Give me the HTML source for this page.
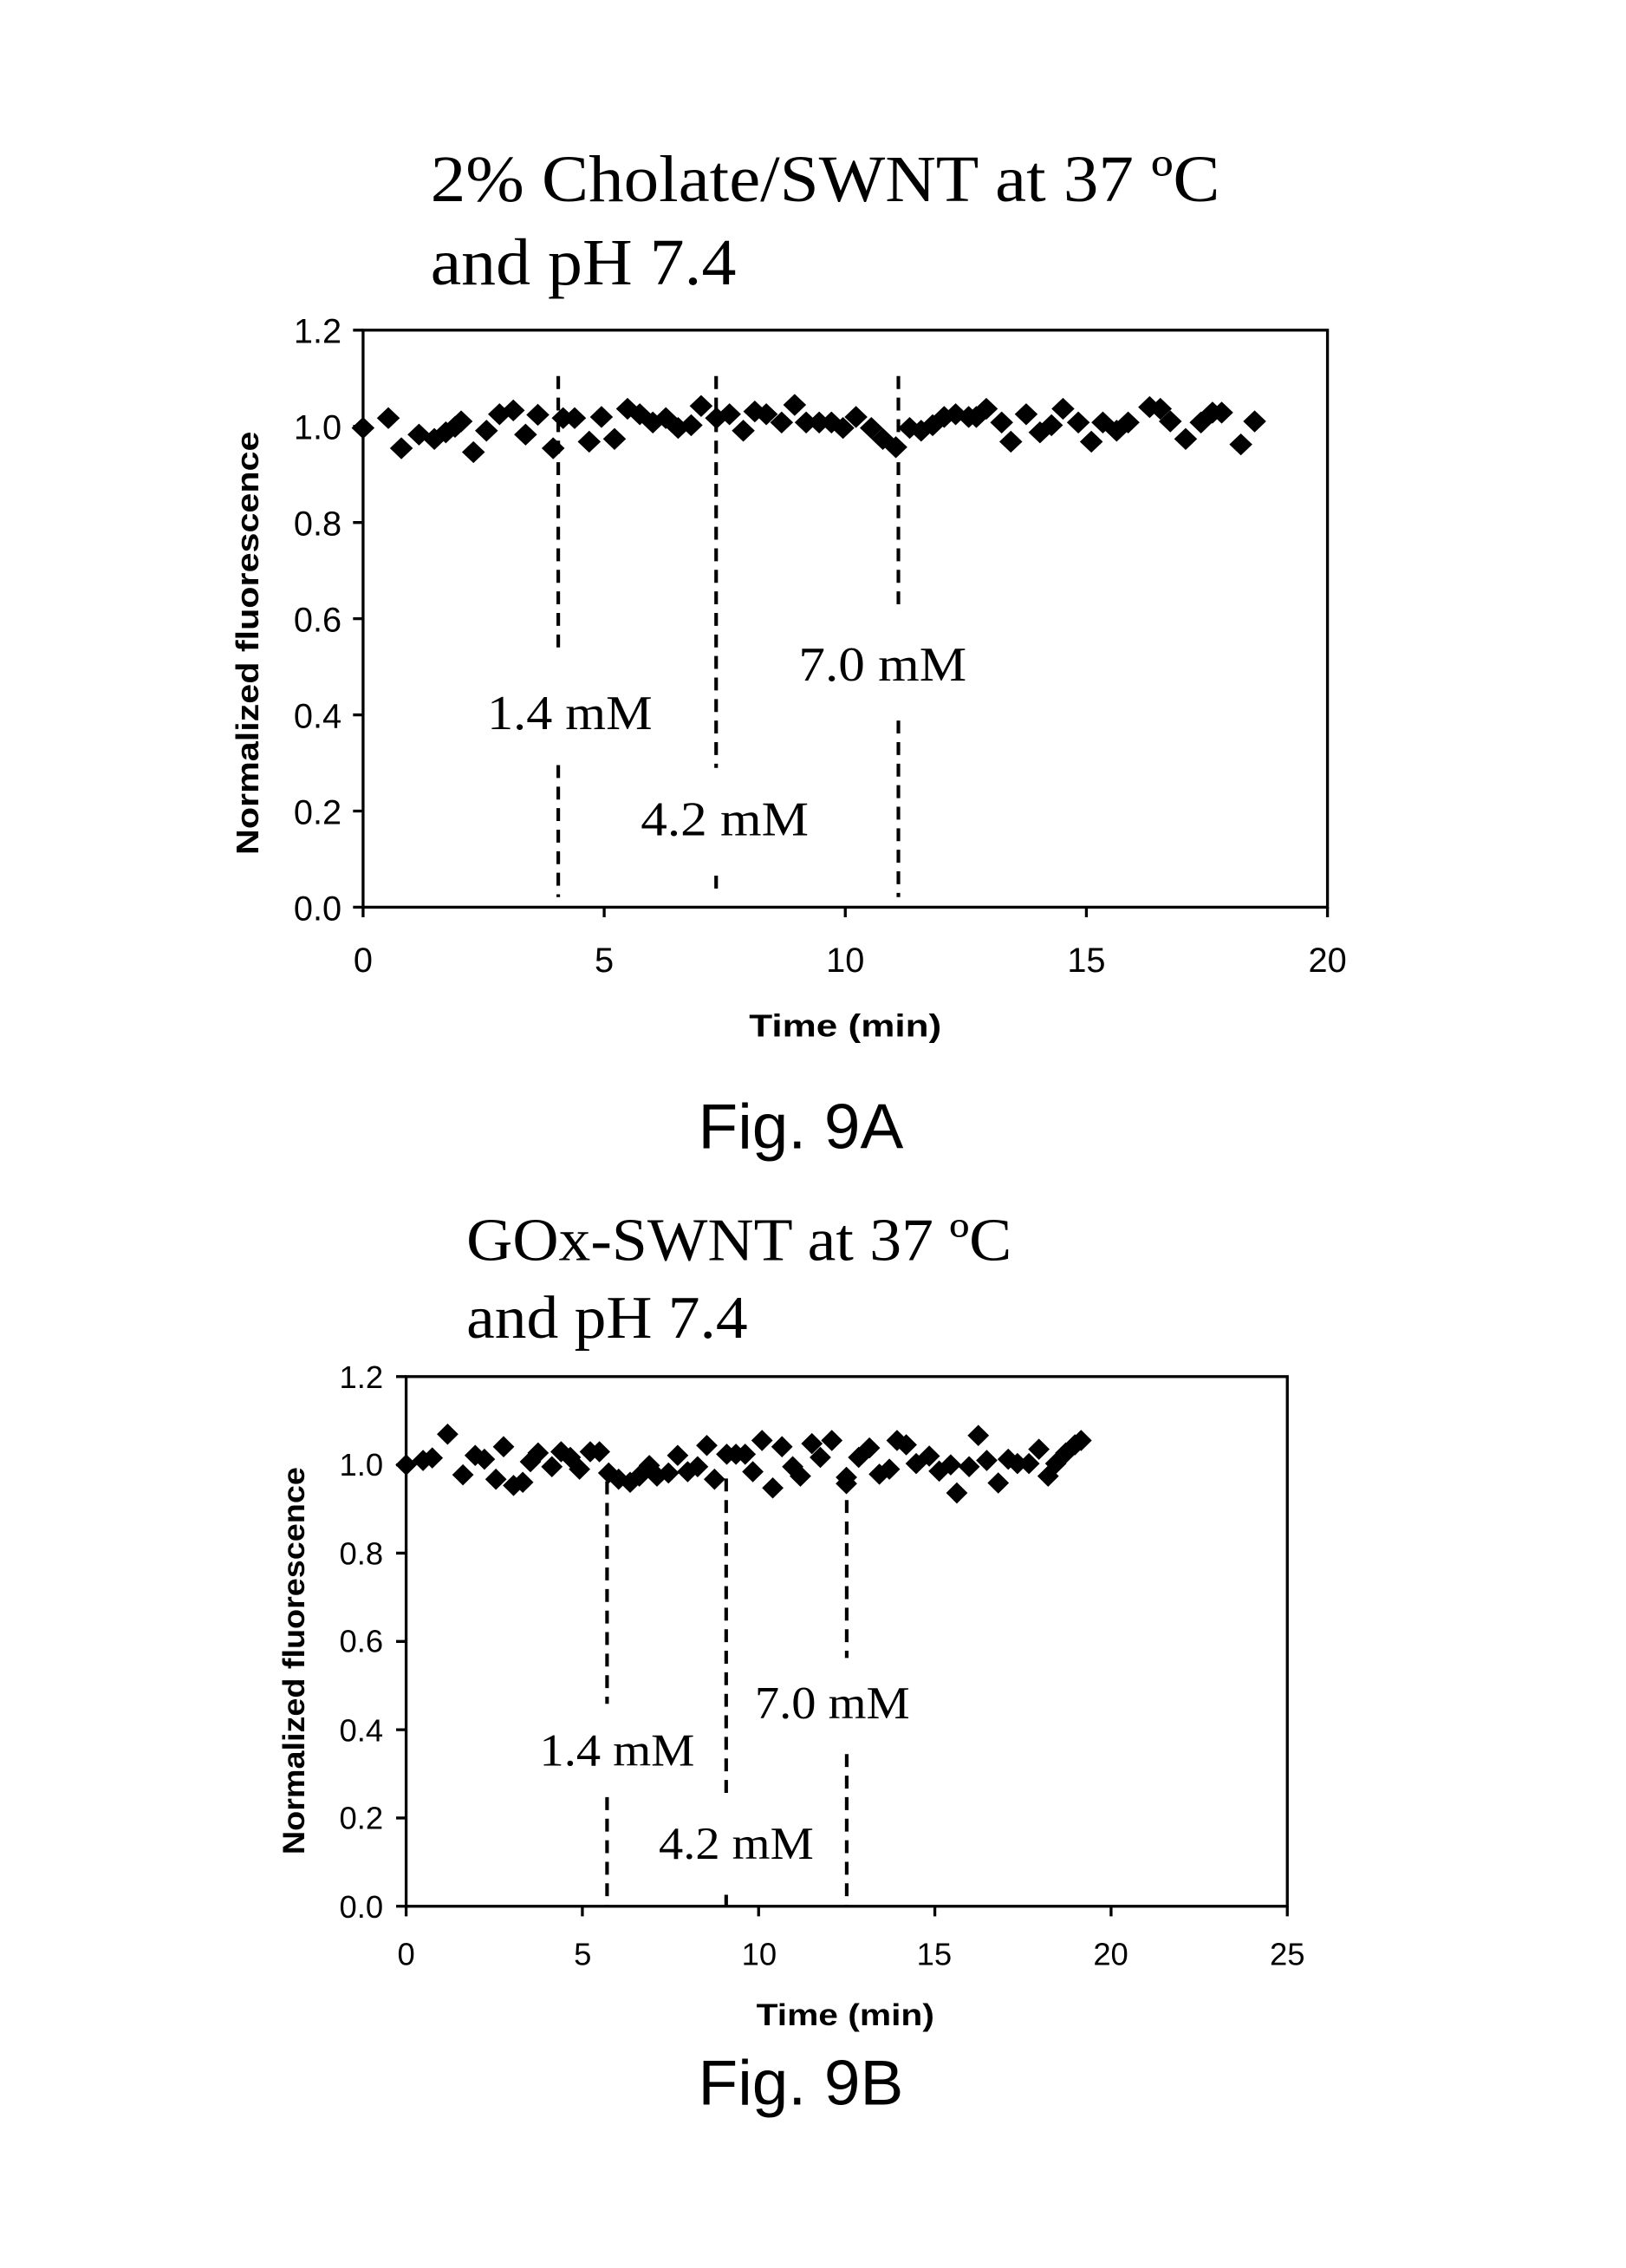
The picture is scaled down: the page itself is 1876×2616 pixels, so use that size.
<!DOCTYPE html>
<html><head><meta charset="utf-8"><style>html,body{margin:0;padding:0;background:#fff}svg{display:block}</style></head>
<body>
<svg width="1876" height="2616" viewBox="0 0 1133 1580" preserveAspectRatio="none" xmlns="http://www.w3.org/2000/svg">
<defs>
<marker id="dA" markerUnits="userSpaceOnUse" markerWidth="40" markerHeight="40" refX="20" refY="20" viewBox="0 0 40 40" overflow="visible"><path d="M5 20 L20 0 L35 20 L20 40 Z" fill="#000"/></marker>
<marker id="dB" markerUnits="userSpaceOnUse" markerWidth="40" markerHeight="40" refX="20" refY="20" viewBox="0 0 40 40" overflow="visible"><path d="M6 20 L20 3 L34 20 L20 37 Z" fill="#000"/></marker>
</defs>
<g font-family="Liberation Serif, serif" fill="#000" lengthAdjust="spacingAndGlyphs">
<text x="300" y="140" font-size="46" textLength="550" lengthAdjust="spacingAndGlyphs">2% Cholate/SWNT at 37 ºC</text>
<text x="300" y="198" font-size="46" textLength="213" lengthAdjust="spacingAndGlyphs">and pH 7.4</text>
<text x="325" y="878" font-size="42" textLength="380" lengthAdjust="spacingAndGlyphs">GOx-SWNT at 37 ºC</text>
<text x="325" y="932" font-size="42" textLength="196" lengthAdjust="spacingAndGlyphs">and pH 7.4</text>
</g>
<!-- Chart A -->
<g stroke="#000" stroke-width="2" fill="none">
<rect x="253" y="230" width="672" height="402"/>
<path d="M246 230h7M246 297h7M246 364h7M246 431h7M246 498h7M246 565h7M246 632h7M253 632v7M421 632v7M589 632v7M757 632v7M925 632v7"/>
</g>
<g font-family="Liberation Sans, sans-serif" font-size="24" text-anchor="end">
<text x="238" y="239">1.2</text><text x="238" y="306">1.0</text><text x="238" y="373">0.8</text><text x="238" y="440">0.6</text><text x="238" y="507">0.4</text><text x="238" y="574">0.2</text><text x="238" y="641">0.0</text>
</g>
<g font-family="Liberation Sans, sans-serif" font-size="24" text-anchor="middle">
<text x="253" y="677">0</text><text x="421" y="677">5</text><text x="589" y="677">10</text><text x="757" y="677">15</text><text x="925" y="677">20</text>
<text x="589" y="722" font-weight="bold" font-size="22" textLength="134" lengthAdjust="spacingAndGlyphs">Time (min)</text>
<text transform="translate(180,448) rotate(-90)" font-weight="bold" font-size="22" textLength="295" lengthAdjust="spacingAndGlyphs">Normalized fluorescence</text>
<text x="558" y="800" font-size="44" textLength="143" lengthAdjust="spacingAndGlyphs">Fig. 9A</text>
</g>
<g stroke="#000" stroke-width="2.5" stroke-dasharray="9,6" fill="none">
<path d="M389 262V452M389 533V625M499 262V535M499 610V625M626 262V425M626 502V625"/>
</g>
<g font-family="Liberation Serif, serif" font-size="34" text-anchor="middle">
<text x="397" y="508" textLength="115" lengthAdjust="spacingAndGlyphs">1.4 mM</text><text x="505" y="582" textLength="117" lengthAdjust="spacingAndGlyphs">4.2 mM</text><text x="615" y="474" textLength="117" lengthAdjust="spacingAndGlyphs">7.0 mM</text>
</g>
<g transform="translate(150.4,179.6) scale(0.5342,0.3824)">
<polyline fill="none" stroke="none" marker-start="url(#dA)" marker-mid="url(#dA)" marker-end="url(#dA)" points="192,310 225,292 242,347 265,322 285,330 300,318 312,308 320,298 336,354 353,315 370,285 388,278 404,322 420,286 440,347 453,292 468,292 487,335 503,290 520,330 537,275 553,285 570,300 587,292 603,310 620,305 633,270 653,292 670,285 688,315 703,280 718,285 738,300 755,268 770,300 787,300 803,300 818,310 835,290 855,310 870,330 887,345 905,310 920,315 935,305 950,290 965,285 982,290 992,290 1005,275 1025,300 1037,335 1057,285 1075,318 1090,305 1105,275 1125,300 1142,335 1157,300 1175,315 1190,300 1218,272 1232,275 1245,298 1265,330 1285,300 1300,282 1312,282 1337,340 1355,298"/>
</g>
<!-- Chart B -->
<g stroke="#000" stroke-width="2" fill="none">
<rect x="283" y="959" width="614" height="369"/>
<path d="M276 959h7M276 1020.5h7M276 1082h7M276 1143.5h7M276 1205h7M276 1266.5h7M276 1328h7M283 1328v7M405.8 1328v7M528.6 1328v7M651.4 1328v7M774.2 1328v7M897 1328v7"/>
</g>
<g font-family="Liberation Sans, sans-serif" font-size="22" text-anchor="end">
<text x="267" y="967">1.2</text><text x="267" y="1028">1.0</text><text x="267" y="1090">0.8</text><text x="267" y="1151">0.6</text><text x="267" y="1213">0.4</text><text x="267" y="1274">0.2</text><text x="267" y="1336">0.0</text>
</g>
<g font-family="Liberation Sans, sans-serif" font-size="22" text-anchor="middle">
<text x="283" y="1369">0</text><text x="406" y="1369">5</text><text x="529" y="1369">10</text><text x="651" y="1369">15</text><text x="774" y="1369">20</text><text x="897" y="1369">25</text>
<text x="589" y="1411" font-weight="bold" font-size="21" textLength="124" lengthAdjust="spacingAndGlyphs">Time (min)</text>
<text transform="translate(212,1157) rotate(-90)" font-weight="bold" font-size="21" textLength="270" lengthAdjust="spacingAndGlyphs">Normalized fluorescence</text>
<text x="558" y="1466" font-size="44" textLength="143" lengthAdjust="spacingAndGlyphs">Fig. 9B</text>
</g>
<g stroke="#000" stroke-width="2.5" stroke-dasharray="9,6" fill="none">
<path d="M423 1032V1187M423 1252V1328M506 1030V1253M506 1320V1328M590 1030V1155M590 1222V1328"/>
</g>
<g font-family="Liberation Serif, serif" font-size="32" text-anchor="middle">
<text x="430" y="1230" textLength="108" lengthAdjust="spacingAndGlyphs">1.4 mM</text><text x="513" y="1295" textLength="108" lengthAdjust="spacingAndGlyphs">4.2 mM</text><text x="580" y="1197" textLength="108" lengthAdjust="spacingAndGlyphs">7.0 mM</text>
</g>
<g transform="translate(150.5,812.7) scale(0.5344,0.4356)">
<polyline fill="none" stroke="none" marker-start="url(#dB)" marker-mid="url(#dB)" marker-end="url(#dB)" points="248,477 270,470 282,466 302,428 322,493 338,462 350,468 365,500 375,448 388,510 400,505 410,472 420,458 438,480 450,456 462,465 474,484 488,456 500,456 512,490 525,500 540,505 552,495 565,478 575,495 590,490 602,462 615,488 628,480 640,446 650,500 666,460 678,460 690,460 700,488 712,438 726,514 738,448 752,480 762,495 777,443 788,465 803,438 822,497 822,507 838,465 852,450 865,492 878,484 888,438 900,445 913,475 930,463 943,487 958,477 966,522 982,480 994,430 1005,470 1020,506 1033,468 1045,475 1060,475 1073,452 1085,495 1095,475 1108,458 1120,445 1128,438"/>
</g>
</svg>
</body></html>
